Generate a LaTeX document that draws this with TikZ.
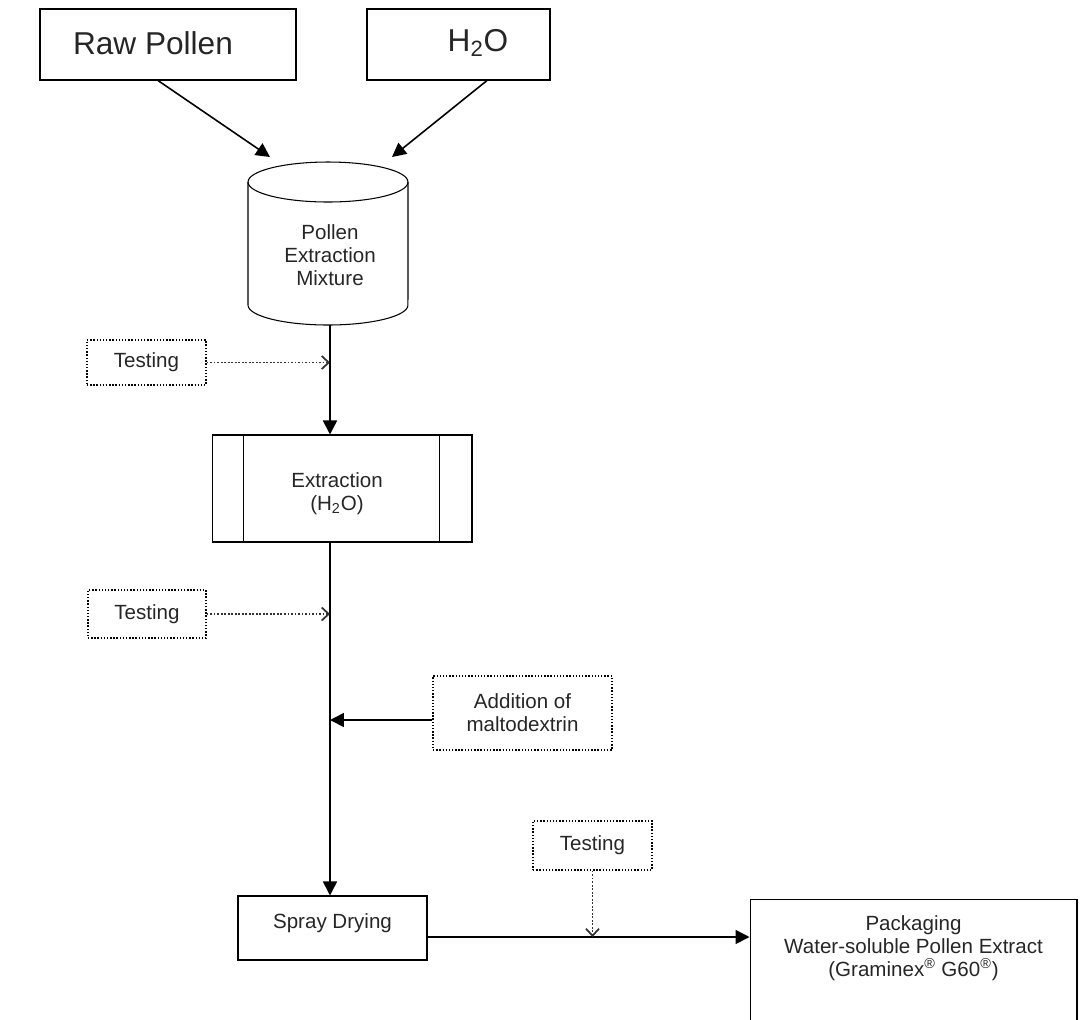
\documentclass[tikz,border=0pt]{standalone}
\usepackage{fontspec}
\setmainfont{Liberation Sans}
\usetikzlibrary{arrows.meta}
\begin{document}
\begin{tikzpicture}[x=0.02cm,y=-0.02cm,
  font=\fontsize{11.7}{13}\selectfont, text=black!85,
  box/.style={draw, line width=0.6pt, inner sep=0pt},
  testbox/.style={draw, densely dotted, line width=0.8pt, inner sep=0pt},
  flow/.style={line width=0.9pt, -{Triangle[length=0.28cm,width=0.28cm]}},
  check/.style={densely dotted, line width=1pt, draw=black!80, -{Straight Barb[length=0.14cm,width=0.26cm]}}]
\useasboundingbox (0,0) rectangle (1083,1019);
\clip (0,0) rectangle (1083,1019);
\node[box, minimum width=5.12cm, minimum height=1.42cm] (raw) at (168,44.5){};
\node[font=\fontsize{18}{21}\selectfont] (rawtxt) at (153,43){Raw Pollen};
\node[box, minimum width=3.66cm, minimum height=1.42cm] (h2o) at (458.5,44.5){};
\node[font=\fontsize{18}{21}\selectfont] (h2otxt) at (478,43){H\textsubscript{2}O};
\node[align=center] (mix) at (330,255){Pollen\\Extraction\\Mixture};
\draw[line width=0.6pt] (328,182) ellipse [x radius=1.6cm, y radius=0.4cm];
\draw[line width=0.6pt] (248,182) -- (248,305) arc[start angle=180, end angle=360, x radius=1.6cm, y radius=0.4cm] -- (408,182);
\coordinate (mixinl) at (270,157);
\coordinate (mixinr) at (392,157);
\coordinate (mixbot) at (330,325);
\draw[flow] ([xshift=-0.2cm]raw.south) -- (mixinl);
\draw[flow] ([xshift=0.57cm]h2o.south) -- (mixinr);
\node[testbox, minimum width=2.38cm, minimum height=0.9cm] (test1) at (146.5,362.5){Testing};
\node[box, minimum width=5.2cm, minimum height=2.14cm] (ext) at (342,488.5){};
\node[align=center] (exttxt) at (337,494){Extraction\\(H\textsubscript{2}O)};
\draw[line width=0.6pt] ([xshift=0.64cm]ext.north west) -- ([xshift=0.64cm]ext.south west);
\draw[line width=0.6pt] ([xshift=-0.66cm]ext.north east) -- ([xshift=-0.66cm]ext.south east);
\draw[check] (test1) -- (test1 -| mixbot);
\draw[flow] (mixbot) -- (ext.north -| mixbot);
\node[testbox, minimum width=2.36cm, minimum height=0.96cm] (test2) at (147,614){Testing};
\node[testbox, minimum width=3.58cm, minimum height=1.48cm, align=center] (add) at (522.5,713){Addition of\\maltodextrin};
\node[box, minimum width=3.78cm, minimum height=1.28cm, text height=2.2ex, text depth=2.2ex] (spray) at (332.5,928){Spray Drying};
\draw[flow] (ext.south -| mixbot) -- (spray.north -| mixbot);
\draw[check] (test2) -- (test2 -| mixbot);
\coordinate (addout) at ([yshift=-0.14cm]add.west);
\draw[flow] (addout) -- (addout -| mixbot);
\node[testbox, minimum width=2.38cm, minimum height=0.98cm] (test3) at (592.5,845.5){Testing};
\node[box, minimum width=6.54cm, minimum height=2.8cm, anchor=north] (pack) at (913.5,899){};
\node[align=center] (packtxt) at (913.5,948){Packaging\\Water-soluble Pollen Extract\\(Graminex\textsuperscript{\textregistered} G60\textsuperscript{\textregistered})};
\coordinate (sprayout) at ([yshift=-0.18cm]spray.east);
\draw[flow] (sprayout) -- (pack.west |- sprayout);
\draw[check] (test3) -- (test3 |- sprayout);
\end{tikzpicture}
\end{document}
